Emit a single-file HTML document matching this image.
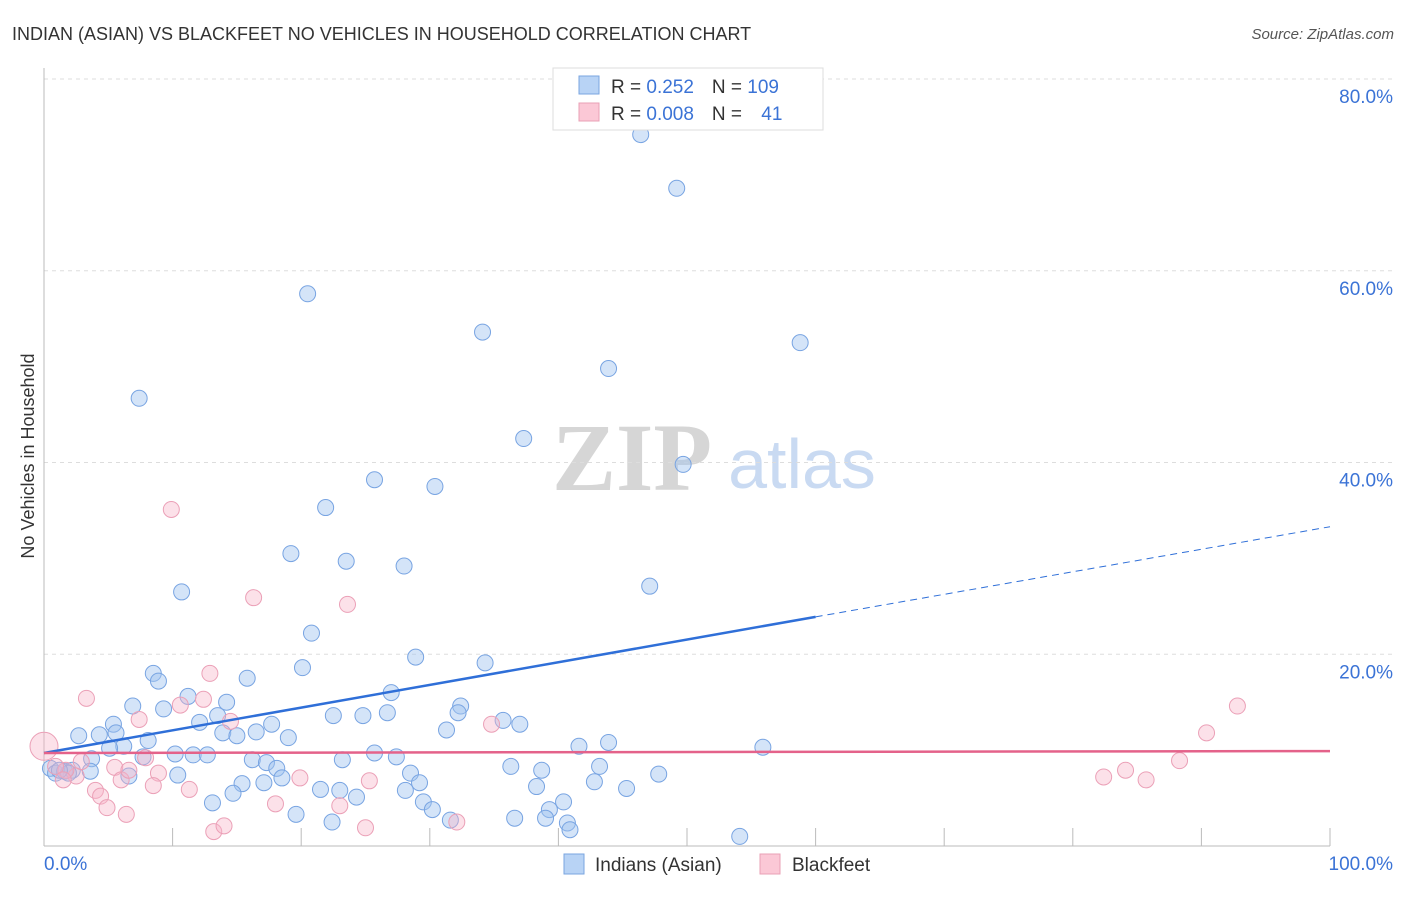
<!DOCTYPE html>
<html><head><meta charset="utf-8"><style>
body{margin:0;background:#fff;font-family:"Liberation Sans",sans-serif;}
svg text{font-family:"Liberation Sans",sans-serif;}
</style></head><body>
<svg id="chart" width="1406" height="892" xmlns="http://www.w3.org/2000/svg">
<text x="12" y="40" font-size="18" fill="#333">INDIAN (ASIAN) VS BLACKFEET NO VEHICLES IN HOUSEHOLD CORRELATION CHART</text>
<text x="1394" y="39" font-size="15" fill="#555" font-style="italic" text-anchor="end">Source: ZipAtlas.com</text>
<text transform="translate(34,456) rotate(-90)" font-size="18" fill="#333" text-anchor="middle">No Vehicles in Household</text>
<g>
<text x="632" y="490" font-size="96" fill="#d6d6d6" style="font-family:'Liberation Serif',serif;font-weight:bold" text-anchor="middle">ZIP</text>
<text x="802" y="488" font-size="70" fill="#c9daf2" text-anchor="middle">atlas</text>
</g>
<g id="grid"></g><g id="axes"></g><g id="pts"></g><g id="trend"></g>
<g>
<rect x="553" y="68" width="270" height="62" fill="#fff" stroke="#ddd"/>
<rect x="579" y="76" width="20" height="18" fill="#b8d3f5" stroke="#7aa6e0"/>
<rect x="579" y="103" width="20" height="18" fill="#fbc8d6" stroke="#eaa0b6"/>
<text x="611" y="93" font-size="19" fill="#333">R = <tspan fill="#3b73d6"> 0.252</tspan><tspan dx="18">N = </tspan><tspan fill="#3b73d6">109</tspan></text>
<text x="611" y="120" font-size="19" fill="#333">R = <tspan fill="#3b73d6">0.008</tspan><tspan dx="18">N = </tspan><tspan fill="#3b73d6" dx="14">41</tspan></text>
</g>
<g>
<rect x="564" y="854" width="20" height="20" fill="#b8d3f5" stroke="#7aa6e0"/>
<text x="595" y="871" font-size="19" fill="#333">Indians (Asian)</text>
<rect x="760" y="854" width="20" height="20" fill="#fbc8d6" stroke="#eaa0b6"/>
<text x="792" y="871" font-size="19" fill="#333">Blackfeet</text>
</g>
</svg>
<script>
const yTicks=[20,40,60,80];
const yTickLabels=["20.0%","40.0%","60.0%","80.0%"];
const xTicks=[10,20,30,40,50,60,70,80,90,100];
const blueX=[46.4,49.2,20.5,34.1,58.8,43.9,7.4,37.3,49.7,25.7,30.4,21.9,19.2,23.5,28.0,47.1,10.7,20.8,28.9,20.1,34.3,8.5,8.9,15.8,11.2,27.0,6.9,9.3,14.2,32.4,13.5,22.5,24.8,26.7,32.2,35.7,37.0,31.3,12.1,17.7,5.4,2.7,4.3,5.6,13.9,15.0,16.5,19.0,8.1,6.2,5.1,41.6,43.9,55.9,10.2,11.6,12.7,25.7,27.4,7.7,3.7,0.5,0.9,1.6,2.2,3.6,16.2,17.3,18.1,23.2,36.3,38.7,43.2,47.8,10.4,6.6,28.5,18.5,15.4,17.1,29.2,42.8,38.3,45.3,28.1,14.7,21.5,23.0,24.3,13.1,29.5,30.2,40.4,39.3,19.6,31.6,36.6,39.0,40.7,40.9,22.4,54.1,1.9,1.2];
const blueY=[74.2,68.6,57.6,53.6,52.5,49.8,46.7,42.5,39.8,38.2,37.5,35.3,30.5,29.7,29.2,27.1,26.5,22.2,19.7,18.6,19.1,18.0,17.2,17.5,15.6,16.0,14.6,14.3,15.0,14.6,13.6,13.6,13.6,13.9,13.9,13.1,12.7,12.1,12.9,12.7,12.7,11.5,11.6,11.8,11.8,11.5,11.9,11.3,11.0,10.4,10.2,10.4,10.8,10.3,9.6,9.5,9.5,9.7,9.3,9.3,9.1,8.1,7.6,7.8,7.9,7.8,9.0,8.7,8.1,9.0,8.3,7.9,8.3,7.5,7.4,7.3,7.6,7.1,6.5,6.6,6.6,6.7,6.2,6.0,5.8,5.5,5.9,5.8,5.1,4.5,4.6,3.8,4.6,3.8,3.3,2.7,2.9,2.9,2.4,1.7,2.5,1.0,7.6,7.9];
const pinkX=[0,9.9,16.3,23.6,12.9,3.3,12.4,10.6,14.5,7.4,34.8,92.8,90.4,88.3,84.1,82.4,85.7,7.9,5.5,8.9,2.5,1.7,4.0,4.4,4.9,6.4,8.5,11.3,18.0,19.9,23.0,25.3,13.2,14.0,25.0,32.1,0.9,2.9,1.5,6.0,6.6];
const pinkY=[10.4,35.1,25.9,25.2,18.0,15.4,15.3,14.7,13.0,13.2,12.7,14.6,11.8,8.9,7.9,7.2,6.9,9.2,8.2,7.6,7.3,7.9,5.8,5.2,4.0,3.3,6.3,5.9,4.4,7.1,4.2,6.8,1.5,2.1,1.9,2.5,8.3,8.8,6.9,6.9,7.9];
const blueTrend=[9.7,23.9,33.3]; // values at x = 0, 60, 100
const pinkTrend=[9.7,9.9];       // values at x = 0, 100
const NS="http://www.w3.org/2000/svg";
const X0=44,X1=1330,Y0=846,YPER=9.5875;
const sx=v=>X0+(X1-X0)*v/100;
const sy=v=>Y0-v*YPER;
function mk(tag,attrs,parent){const e=document.createElementNS(NS,tag);for(const k in attrs)e.setAttribute(k,attrs[k]);parent.appendChild(e);return e;}
const grid=document.getElementById('grid'),axes=document.getElementById('axes'),pts=document.getElementById('pts'),tr=document.getElementById('trend');
yTicks.forEach((t,i)=>{
 const l=mk('line',{x1:X0,x2:1394,y1:sy(t),y2:sy(t),stroke:'#ddd','stroke-dasharray':'4,4'},grid);
 
 
 const tx=mk('text',{x:1393,y:sy(t)+24,'font-size':19,fill:'#3b73d6','text-anchor':'end'},axes);
 tx.textContent=yTickLabels[i];
 
 
});
const ax=mk('line',{x1:X0,x2:X0,y1:68,y2:Y0,stroke:'#bbb'},axes);


const bx=mk('line',{x1:X0,x2:X1,y1:Y0,y2:Y0,stroke:'#bbb'},axes);


xTicks.forEach(t=>{
 const l=mk('line',{x1:sx(t),x2:sx(t),y1:828,y2:Y0,stroke:'#bbb'},axes);
 
 
});
const xl0=mk('text',{x:44,y:870,'font-size':19,fill:'#3b73d6'},axes);xl0.textContent='0.0%';


const xl1=mk('text',{x:1393,y:870,'font-size':19,fill:'#3b73d6','text-anchor':'end'},axes);xl1.textContent='100.0%';


blueX.forEach((v,i)=>{
 const c=mk('circle',{cx:sx(v),cy:sy(blueY[i]),r:8,fill:'rgba(160,196,240,0.45)',stroke:'#78a4e2','stroke-width':1},pts);
 
 
});
pinkX.forEach((v,i)=>{
 const c=mk('circle',{cx:sx(v),cy:sy(pinkY[i]),r:i===0?14:8,fill:'rgba(248,180,200,0.4)',stroke:'#eba0b7','stroke-width':1},pts);
 
 
});
const b1=mk('line',{x1:sx(0),y1:sy(blueTrend[0]),x2:sx(60),y2:sy(blueTrend[1]),stroke:'#2f6fd8','stroke-width':2.5},tr);


const b2=mk('line',{x1:sx(60),y1:sy(blueTrend[1]),x2:sx(100),y2:sy(blueTrend[2]),stroke:'#2f6fd8','stroke-width':1,'stroke-dasharray':'7,5'},tr);


const p1=mk('line',{x1:sx(0),y1:sy(pinkTrend[0]),x2:sx(100),y2:sy(pinkTrend[1]),stroke:'#e4628a','stroke-width':2.5},tr);


</script>
</body></html>
